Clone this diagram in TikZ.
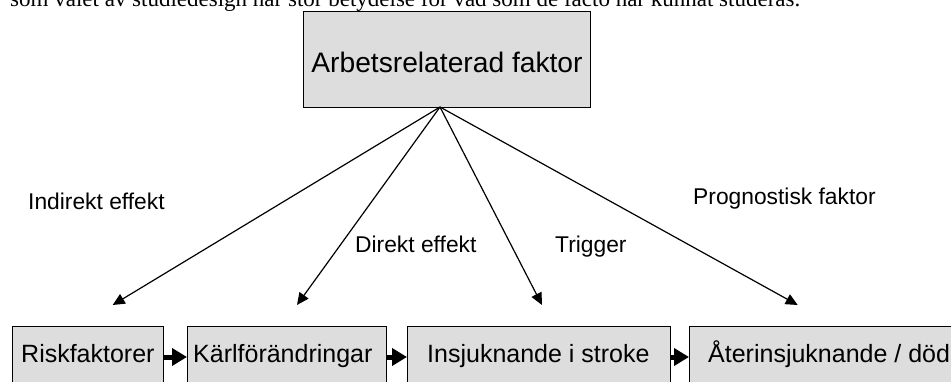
\documentclass[tikz,border=0pt]{standalone}
\usepackage{fontspec}
\setmainfont{Liberation Sans}
\newfontfamily\serifface{Liberation Serif}
\usetikzlibrary{arrows.meta}
\definecolor{boxgray}{HTML}{DDDDDD}
\begin{document}
\begin{tikzpicture}[x=1pt,y=-1pt,
  boxnode/.style={draw=black, line width=1.3pt, fill=boxgray, anchor=north west, inner sep=0pt, minimum width=#1},
  boxtext/.style={anchor=base west, inner sep=0pt, font=\fontsize{25}{30}\selectfont},
  lbl/.style={anchor=base west, inner sep=0pt, font=\fontsize{22.8}{27}\selectfont},
  thinarrow/.style={line width=1.2pt, -{Triangle[length=12pt,width=11pt]}},
  thickarrow/.style={line width=5pt, -{Triangle[length=15pt,width=17pt]}}
]
\useasboundingbox (0,0) rectangle (951,382);
\clip (0,0) rectangle (951,382);
\fill[white] (0,0) rectangle (951,382);

% cut-off sentence at the top
\node[anchor=base west, inner sep=0pt, font=\serifface\fontsize{23}{27}\selectfont] (sent) at (10,7)
  {som valet av studiedesign har stor betydelse för vad som de facto har kunnat studeras.};

% top box
\node[boxnode=287pt, minimum height=96pt] (top) at (303,11) {};
\node[anchor=base, inner sep=0pt, font=\fontsize{28.2}{32}\selectfont] (toptext) at (447,72.7) {Arbetsrelaterad faktor};

% bottom boxes
\node[boxnode=151pt, minimum height=90pt] (b1) at (12,326) {};
\node[boxnode=199pt, minimum height=90pt] (b2) at (187,326) {};
\node[boxnode=263pt, minimum height=90pt] (b3) at (407,326) {};
\node[boxnode=320pt, minimum height=90pt] (b4) at (689,326) {};

\node[boxtext] (t1) at (21,362.5) {Riskfaktorer};
\node[boxtext] (t2) at (193,362) {Kärlförändringar};
\node[boxtext] (t3) at (427,362.5) {Insjuknande i stroke};
\node[boxtext] (t4) at (708,362.5) {Återinsjuknande / död};

% horizontal arrows
\coordinate (ay) at (0,357);
\draw[thickarrow] (b1.east |- ay) -- (b2.west |- ay);
\draw[thickarrow] (b2.east |- ay) -- (b3.west |- ay);
\draw[thickarrow] (b3.east |- ay) -- (b4.west |- ay);

% arrow tips
\coordinate (p1) at (112.7,305);
\coordinate (p2) at (297,305);
\coordinate (p3) at (542,305);
\coordinate (p4) at (797.7,305);
\coordinate (src) at (440,107);

\draw[thinarrow] (src) -- (p1);
\draw[thinarrow] (src) -- (p2);
\draw[thinarrow] (src) -- (p3);
\draw[thinarrow] (src) -- (p4);

% labels
\node[lbl] (l1) at (28,209.5) {Indirekt effekt};
\node[lbl] (l2) at (355,253) {Direkt effekt};
\node[lbl] (l3) at (555,253) {Trigger};
\node[lbl] (l4) at (693,205) {Prognostisk faktor};
\end{tikzpicture}
\end{document}
